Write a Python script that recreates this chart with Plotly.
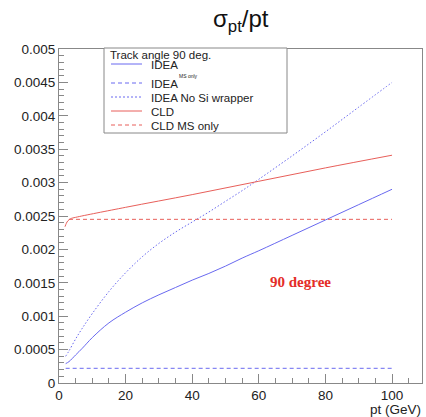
import plotly.graph_objects as go

# ---- data ----
pt_idea = [2, 3, 5, 7, 10, 15, 20, 25, 30, 35, 40, 45, 50, 55, 60, 70, 80, 90, 100]
idea = [0.00029, 0.00032, 0.00042, 0.00052, 0.00068, 0.00090, 0.00106, 0.00120, 0.00132,
        0.00143, 0.00154, 0.00164, 0.00175, 0.00187, 0.00198, 0.00221, 0.00244, 0.00267, 0.00290]
idea_nosi = [0.00040, 0.00048, 0.00066, 0.00082, 0.00104, 0.00137, 0.00165, 0.00189, 0.00209,
             0.00226, 0.00241, 0.00256, 0.00272, 0.00288, 0.00305, 0.00340, 0.00376, 0.00413,
             0.00450]
pt_idea_ms = [2, 100]
idea_ms = [0.00022, 0.00022]
pt_cld_ms = [3, 100]
cld_ms = [0.00245, 0.00245]
pt_cld = [1.8, 2.2, 2.7, 3.5, 5, 20, 40, 60, 80, 100]
cld = [0.00234, 0.00239, 0.00243, 0.00246, 0.00248, 0.00263, 0.00282, 0.00302, 0.00322, 0.00341]

x_ticks = [0, 20, 40, 60, 80, 100]
y_ticks = [0, 0.0005, 0.001, 0.0015, 0.002, 0.0025, 0.003, 0.0035, 0.004, 0.0045, 0.005]
y_ticktext = ["0", "0.0005", "0.001", "0.0015", "0.002", "0.0025", "0.003",
              "0.0035", "0.004", "0.0045", "0.005"]

legend_title = "Track angle 90 deg."
legend_names = ["IDEA", "IDEA", "IDEA No Si wrapper", "CLD", "CLD MS only"]

BLUE = "rgb(105,105,240)"
RED = "rgb(232,95,90)"
FONT = "Liberation Sans, Arial, sans-serif"

W, H = 426, 417
# plot frame in window pixels
FL, FR, FT, FB = 59, 422, 49, 383
L, R, T, B = FL, W - FR, FT, H - FB
PW, PH = FR - FL, FB - FT


def px_x(p):
    return (p - FL) / PW


def px_y(p):
    return (FB - p) / PH


fig = go.Figure()
fig.add_trace(go.Scatter(x=pt_idea, y=idea, mode="lines", line_shape="spline",
                         line=dict(color=BLUE, width=1), showlegend=False))
fig.add_trace(go.Scatter(x=pt_idea_ms, y=idea_ms, mode="lines",
                         line=dict(color=BLUE, width=1, dash="4px,3px"), showlegend=False))
fig.add_trace(go.Scatter(x=pt_idea, y=idea_nosi, mode="lines", line_shape="spline",
                         line=dict(color=BLUE, width=1, dash="1.5px,2px"), showlegend=False))
fig.add_trace(go.Scatter(x=pt_cld, y=cld, mode="lines", line_shape="spline",
                         line=dict(color=RED, width=1), showlegend=False))
fig.add_trace(go.Scatter(x=pt_cld_ms, y=cld_ms, mode="lines",
                         line=dict(color=RED, width=1, dash="4px,3px"), showlegend=False))

shapes = []
annotations = []

# manual legend box
shapes.append(dict(type="rect", xref="paper", yref="paper",
                   x0=px_x(104), x1=px_x(287), y0=px_y(133), y1=px_y(48),
                   line=dict(color="#888", width=1), fillcolor="white", layer="above"))
annotations.append(dict(xref="paper", yref="paper", x=px_x(109), y=px_y(54.5),
                        xanchor="left", yanchor="middle", showarrow=False, borderpad=0,
                        text=legend_title, font=dict(family=FONT, size=11.5, color="#222")))
row_y = [64, 83, 97, 111, 125]
row_style = [(BLUE, "solid"), (BLUE, "4px,3px"), (BLUE, "2px,2px"), (RED, "solid"), (RED, "4px,3px")]
for name, yy, (col, dash) in zip(legend_names, row_y, row_style):
    shapes.append(dict(type="line", xref="paper", yref="paper",
                       x0=px_x(111), x1=px_x(142), y0=px_y(yy), y1=px_y(yy),
                       line=dict(color=col, width=1, dash=dash), layer="above"))
    annotations.append(dict(xref="paper", yref="paper", x=px_x(150), y=px_y(yy + 1),
                            xanchor="left", yanchor="middle", showarrow=False, borderpad=0,
                            text=name, font=dict(family=FONT, size=11.5, color="#222")))
annotations.append(dict(xref="paper", yref="paper", x=px_x(178), y=px_y(75.5),
                        xanchor="left", yanchor="middle", showarrow=False, borderpad=0,
                        text="MS only", font=dict(family=FONT, size=5, color="#222")))

# title
annotations.append(dict(xref="paper", yref="paper", x=px_x(241), y=px_y(20),
                        xanchor="center", yanchor="middle", showarrow=False,
                        text="σ<sub>pt</sub>/pt", font=dict(family=FONT, size=24, color="#111")))
# x axis title
annotations.append(dict(xref="paper", yref="paper", x=px_x(423), y=px_y(409),
                        xanchor="right", yanchor="middle", showarrow=False,
                        text="pt (GeV)", font=dict(family=FONT, size=13.5, color="#222")))
# in-plot label
annotations.append(dict(x=72.4, y=0.00151, xanchor="center", yanchor="middle", showarrow=False,
                        text="<b>90 degree</b>",
                        font=dict(family="Liberation Serif, Times New Roman, serif", size=15,
                                  color="rgb(228,45,40)")))

fig.update_layout(
    width=W, height=H,
    margin=dict(l=L, r=R, t=T, b=B),
    paper_bgcolor="white", plot_bgcolor="white",
    showlegend=False,
    shapes=shapes, annotations=annotations,
    xaxis=dict(range=[0, 109], tickvals=x_ticks, ticks="inside", ticklen=9,
               tickcolor="#888", tickwidth=1, showline=True, linecolor="#888",
               linewidth=1, mirror=True, showgrid=False, zeroline=False,
               tickfont=dict(family=FONT, size=13.5, color="#222"),
               minor=dict(dtick=5, tick0=0, ticks="inside", ticklen=5, tickcolor="#888",
                          showgrid=False)),
    yaxis=dict(range=[0, 0.005], tickvals=y_ticks, ticktext=y_ticktext, ticks="inside",
               ticklen=9, tickcolor="#888", tickwidth=1, showline=True, linecolor="#888",
               linewidth=1, mirror=True, showgrid=False, zeroline=False,
               tickfont=dict(family=FONT, size=13.5, color="#222"),
               minor=dict(dtick=0.0001, tick0=0, ticks="inside", ticklen=5,
                          tickcolor="#888", showgrid=False)),
)

# remove the browser's default 8px body margin so the figure fills the 426x417 window
fig.write_html("out.html", config={"displayModeBar": False},
               post_script="document.body.style.margin='0';")
